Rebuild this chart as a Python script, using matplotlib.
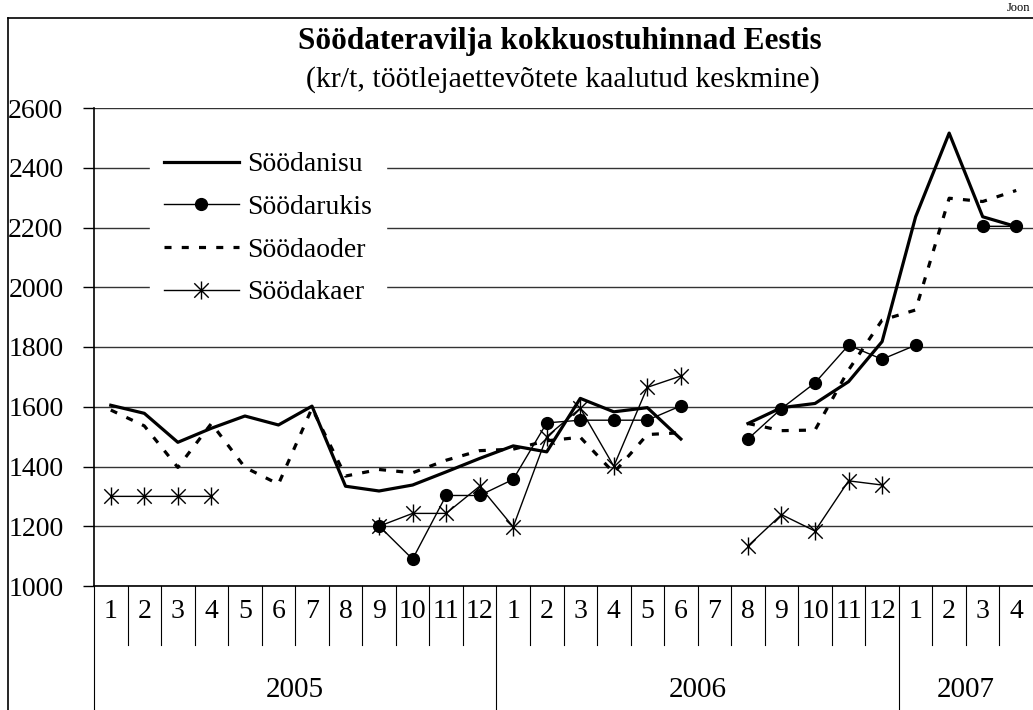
import matplotlib
matplotlib.use("Agg")
import matplotlib.pyplot as plt
import numpy as np
from matplotlib.path import Path
from matplotlib.lines import Line2D
from matplotlib.transforms import blended_transform_factory

nan = np.nan

# 2005-01 .. 2007-04, monthly
months = [str(m) for m in range(1, 13)] * 2 + ["1", "2", "3", "4"]
years = ["2005", "2006", "2007"]
year_spans = [(0, 12), (12, 24), (24, 28)]

nisu = [1605, 1578, 1481, 1528, 1569, 1539, 1602, 1334, 1318, 1338, 1382, 1427,
        1469, 1449, 1628, 1583, 1597, 1492, nan, 1544, 1597, 1611, 1684, 1818,
        2236, 2516, 2236, 2203]
rukis = [nan, nan, nan, nan, nan, nan, nan, nan, 1201, 1090, 1303, 1303,
         1357, 1546, 1555, 1555, 1555, 1603, nan, 1492, 1594, 1680, 1806, 1759,
         1806, nan, 2204, 2204]
oder = [1589, 1536, 1397, 1544, 1397, 1341, 1595, 1368, 1390, 1379, 1421, 1453,
        1458, 1486, 1498, 1379, 1507, 1513, nan, 1544, 1520, 1522, 1723, 1890,
        1924, 2298, 2287, 2324]
kaer = [1300, 1300, 1300, 1300, nan, nan, nan, nan, 1200, 1243, 1243, 1334,
        1198, 1500, 1595, 1401, 1665, 1703, nan, 1134, 1239, 1184, 1352, 1338,
        nan, nan, nan, nan]

yticks = [1000, 1200, 1400, 1600, 1800, 2000, 2200, 2400, 2600]

plt.rcParams['font.family'] = ['Liberation Serif', 'DejaVu Serif']
FS = 20

W, H = 1033, 710
fig = plt.figure(figsize=(W / 100, H / 100), dpi=100)
ax_l, ax_r, ax_t, ax_b = 94, 1033, 108, 586
ax = fig.add_axes([ax_l / W, (H - ax_b) / H, (ax_r - ax_l) / W, (ax_b - ax_t) / H])

x = np.arange(len(months)) + 0.5

# Excel-style star: vertical bar plus an X
star = Path([(0, -1), (0, 1), (-0.8, -0.8), (0.8, 0.8), (-0.8, 0.8), (0.8, -0.8)],
            [Path.MOVETO, Path.LINETO, Path.MOVETO, Path.LINETO, Path.MOVETO, Path.LINETO])

ax.plot(x, nisu, color='black', lw=2.3, label='Söödanisu', zorder=4)
ax.plot(x, rukis, color='black', lw=1.0, marker='o', markersize=8.5,
        label='Söödarukis', zorder=3)
ax.plot(x, oder, color='black', lw=2.3, dashes=(2.2, 3.2), label='Söödaoder',
        zorder=3)
ax.plot(x, kaer, color='black', lw=1.0, marker=star, markersize=13,
        markeredgewidth=1.0, label='Söödakaer', zorder=3)

ax.set_xlim(0, len(months))
ax.set_ylim(1000, 2600)
ax.set_yticks(yticks)
ax.set_yticklabels([str(v) for v in yticks], fontsize=FS)
ax.set_xticks([])
ax.tick_params(axis='y', length=8, width=1, pad=14, direction='out')
ax.grid(axis='y', color='#333333', lw=1.0)
ax.set_axisbelow(True)
for s in ['top', 'right']:
    ax.spines[s].set_visible(False)
ax.spines['left'].set_linewidth(1.2)
ax.spines['bottom'].set_linewidth(1.2)

# category axis: month cells and year groups
tr = blended_transform_factory(ax.transData, ax.transAxes)
month_end = -(645 - ax_b) / (ax_b - ax_t)
year_end = -(H - ax_b) / (ax_b - ax_t)
year_starts = [s for s, e in year_spans]
for k in range(len(months)):
    y_end = year_end if k in year_starts else month_end
    ax.add_line(Line2D([k, k], [0, y_end], transform=tr, color='black', lw=0.8,
                       clip_on=False))
for i, m in enumerate(months):
    ax.text(x[i], -(612 - ax_b) / (ax_b - ax_t), m, transform=tr, ha='center',
            va='center', fontsize=FS)
for yr, (s, e) in zip(years, year_spans):
    ax.text((s + e) / 2, -(690 - ax_b) / (ax_b - ax_t), yr, transform=tr,
            ha='center', va='center', fontsize=21)

leg = ax.legend(loc='upper left', bbox_to_anchor=(150 / W, (H - 138) / H),
                bbox_transform=fig.transFigure, fontsize=FS, frameon=True,
                fancybox=False, edgecolor='white', facecolor='white',
                framealpha=1, handlelength=2.7, handletextpad=0.3,
                labelspacing=0.62, borderaxespad=0, borderpad=0.5, numpoints=1)
leg.set_zorder(5)

# outer frame
fig.add_artist(Line2D([8 / W, 8 / W], [0, (H - 18) / H], color='black', lw=1.2))
fig.add_artist(Line2D([8 / W, 1], [(H - 18) / H, (H - 18) / H], color='black', lw=1.2))

fig.text(560 / W, (H - 42) / H, 'Söödateravilja kokkuostuhinnad Eestis',
         ha='center', va='center', fontsize=22.5, fontweight='bold')
fig.text(563 / W, (H - 80) / H, '(kr/t, töötlejaettevõtete kaalutud keskmine)',
         ha='center', va='center', fontsize=21.5)
fig.text(1030 / W, (H - 8) / H, 'Joon', ha='right', va='center', fontsize=9)

fig.savefig('out.png', dpi=100)
